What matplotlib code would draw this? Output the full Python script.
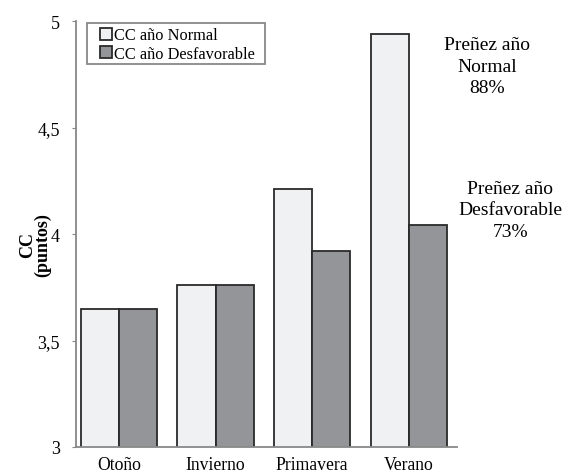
import matplotlib
matplotlib.use("Agg")
import matplotlib.pyplot as plt
from matplotlib.patches import Rectangle
import numpy as np

categories = ["Otoño", "Invierno", "Primavera", "Verano"]
cc_normal = [3.65, 3.76, 4.21, 4.94]
cc_desf = [3.65, 3.76, 3.92, 4.04]
series_labels = ["CC año Normal", "CC año Desfavorable"]
yticks = [3, 3.5, 4, 4.5, 5]
ytick_labels = ["3", "3,5", "4", "4,5", "5"]

plt.rcParams['font.family'] = ['Liberation Serif', 'DejaVu Serif']

fig = plt.figure(figsize=(5.63, 4.77), dpi=100)
ax = fig.add_axes([0.135, 0.0608, 0.677, 0.893])

x = np.arange(len(categories))
w = 0.395
ax.bar(x - w/2, cc_normal, w, color="#F0F1F3", edgecolor="#2a2a2a", linewidth=1.3, label=series_labels[0])
ax.bar(x + w/2, cc_desf, w, color="#939598", edgecolor="#2a2a2a", linewidth=1.3, label=series_labels[1])

ax.set_ylim(3, 5)
ax.set_xlim(-0.445, 3.5)
ax.set_yticks(yticks)
ax.set_yticklabels(ytick_labels, fontsize=13)
ax.set_xticks(x)
ax.set_xticklabels(categories, fontsize=12.7)
ax.tick_params(axis='x', length=0, pad=6.5)
ax.tick_params(axis='y', length=3, color="#888888", pad=8.5)
for s in ["top", "right"]:
    ax.spines[s].set_visible(False)
for s in ["left", "bottom"]:
    ax.spines[s].set_color("#888888")
    ax.spines[s].set_linewidth(1.3)

ax.set_ylabel("CC\n(puntos)", fontsize=13, fontweight="bold", linespacing=0.85)
ax.yaxis.label.set_va("center")
ax.yaxis.set_label_coords(-0.108, 0.477)

# legend frame (drawn separately so padding matches the reference)
ax.add_patch(Rectangle((0.029, 0.899), 0.466, 0.097, transform=ax.transAxes,
                       facecolor="white", edgecolor="#888888", linewidth=1.3,
                       clip_on=False, zorder=4))
leg = ax.legend(loc="upper left", bbox_to_anchor=(0.063, 0.985), fontsize=11.8, frameon=False,
                handlelength=0.72, handleheight=0.72, handletextpad=0.12,
                borderpad=0.0, labelspacing=0.15, borderaxespad=0.0)
leg.set_zorder(5)

ax.text(3.81, 4.93, "Preñez año\nNormal\n88%", ha="center", va="top", fontsize=14,
        linespacing=1.36, clip_on=False)
ax.text(4.05, 4.255, "Preñez año\nDesfavorable\n73%", ha="center", va="top", fontsize=14,
        linespacing=1.36, clip_on=False)

fig.savefig("out.png", dpi=100)
